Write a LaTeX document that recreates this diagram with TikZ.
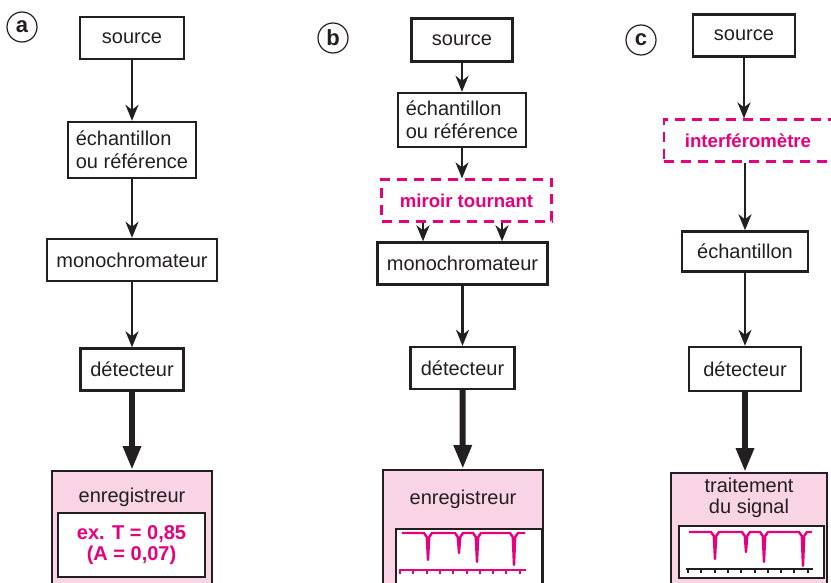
\documentclass[tikz,border=0pt]{standalone}
\usepackage{fontspec}
\setmainfont{Liberation Sans}
\usetikzlibrary{arrows.meta,positioning}
\definecolor{ink}{HTML}{231F20}
\definecolor{mag}{HTML}{E6007E}
\definecolor{pinkbg}{HTML}{F8D4E4}
\tikzset{
  bnode/.style={rectangle,draw=ink,line width=1.2pt,text=ink,inner sep=1pt,font=\fontsize{10}{11.5}\selectfont},
  mnode/.style={rectangle,draw=mag,line width=1.1pt,dash pattern=on 5pt off 3.5pt,text=mag,inner sep=1pt,font=\fontsize{9.3}{11}\selectfont\bfseries},
  rnode/.style={rectangle,draw=ink,line width=1.2pt,fill=pinkbg,anchor=north,minimum height=70pt},
  wnode/.style={rectangle,draw=ink,line width=1.2pt,fill=white},
  lnode/.style={circle,draw=ink,line width=0.6pt,minimum size=15pt,inner sep=0pt,text=ink,font=\fontsize{11}{11}\selectfont\bfseries},
  tnode/.style={text=ink,inner sep=0pt,align=center,font=\fontsize{10}{10.5}\selectfont},
  de/.style={-{Stealth[length=8pt,width=6.5pt,inset=2.5pt]},line width=1.1pt,draw=ink},
  be/.style={-{Triangle[length=12pt,width=8.5pt]},line width=3pt,draw=ink},
  sig/.style={line width=1.2pt,draw=mag,line join=round},
  axe/.style={line width=1pt}
}
\begin{document}
\begin{tikzpicture}[x=0.5pt,y=-0.5pt]
\useasboundingbox (0,0) rectangle (831,583);
% a
\node[lnode] (la) at (22,27) {a};
\node[bnode,minimum width=52pt,minimum height=21pt] (srcA) at (132,38) {source};
\node[bnode,align=left,minimum width=64pt,minimum height=28pt] (echA) at (132,150) {échantillon\\ou référence};
\node[bnode,minimum width=85pt,minimum height=21pt] (monoA) at (132,260) {monochromateur};
\node[bnode,minimum width=51.5pt,minimum height=21pt] (detA) at (132,369.5) {détecteur};
\node[rnode,minimum width=80pt] (enrA) at (132,470) {};
\node[tnode] (enrAt) at (132,497) {enregistreur};
\node[wnode,minimum width=73.5pt,minimum height=32pt,text=mag,align=center,inner sep=0pt,
  font=\fontsize{10}{10.5}\selectfont\bfseries] (valA) at (131.5,545) {ex. T = 0,85\\(A = 0,07)};
\draw[de] (srcA) -- (echA);
\draw[de] (echA) -- (monoA);
\draw[de] (monoA) -- (detA);
\draw[be] (detA) -- (enrA);
% b
\node[lnode] (lb) at (333,38) {b};
\node[bnode,minimum width=50.5pt,minimum height=21.5pt] (srcB) at (462,40) {source};
\node[bnode,align=left,minimum width=64pt,minimum height=27pt] (echB) at (462,120) {échantillon\\ou référence};
\node[mnode,minimum width=85pt,minimum height=21pt] (mir) at (466.5,200.5) {miroir tournant};
\node[bnode,minimum width=85pt,minimum height=21pt] (monoB) at (462.5,263.5) {monochromateur};
\node[bnode,minimum width=52pt,minimum height=21pt] (detB) at (462.5,368) {détecteur};
\node[rnode,minimum width=80pt] (enrB) at (463,469) {};
\node[tnode] (enrBt) at (463,499) {enregistreur};
\node[wnode,anchor=north west,minimum width=73pt,minimum height=40pt] (specB) at (395,528) {};
\coordinate (mL) at (423,0);
\coordinate (mR) at (502,0);
\draw[de] (srcB) -- (echB);
\draw[de] (echB) -- (echB |- mir.north);
\draw[de] (mir.south -| mL) -- (monoB.north -| mL);
\draw[de] (mir.south -| mR) -- (monoB.north -| mR);
\draw[de] (monoB) -- (detB);
\draw[be] (detB) -- (enrB);
\draw[sig] (402,533) foreach \x/\d in {428/560,459/553,477/562,514/565}
  { -- (\x-4,533) -- (\x-1.2,537) -- (\x,\d) -- (\x+1.2,537) -- (\x+4,533) } -- (525,533);
\draw[mag,axe] (399,570) -- (526,570);
\foreach \t in {0,...,9} \draw[mag,axe] (400+\t*13.3,570) -- ++(0,4);
% c
\node[lnode] (lc) at (641,40) {c};
\node[bnode,minimum width=51pt,minimum height=21pt] (srcC) at (744,35.5) {source};
\node[mnode,minimum width=84pt,minimum height=21pt] (intf) at (748,140.5) {interféromètre};
\node[bnode,minimum width=63pt,minimum height=20pt] (echC) at (745,251.5) {échantillon};
\node[bnode,minimum width=56pt,minimum height=22pt] (detC) at (745,369) {détecteur};
\node[rnode,minimum width=78pt] (trt) at (749,472) {};
\node[tnode] (trtt) at (749,497.5) {traitement\\du signal};
\node[wnode,minimum width=72.5pt,minimum height=26pt] (specC) at (751.5,552) {};
\draw[de] (srcC) -- (srcC |- intf.north);
\draw[de] (echC |- intf.south) -- (echC);
\draw[de] (echC) -- (detC);
\draw[be] (detC) -- (detC |- trt.north);
\draw[sig] (689,532) foreach \x/\d in {715/559,746/552,764/562,803/566}
  { -- (\x-4,532) -- (\x-1.2,536) -- (\x,\d) -- (\x+1.2,536) -- (\x+4,532) } -- (812,532);
\draw[ink,axe] (686,569) -- (813,569);
\foreach \t in {0,...,9} \draw[ink,axe] (688+\t*13.3,569) -- ++(0,4);
\end{tikzpicture}
\end{document}
